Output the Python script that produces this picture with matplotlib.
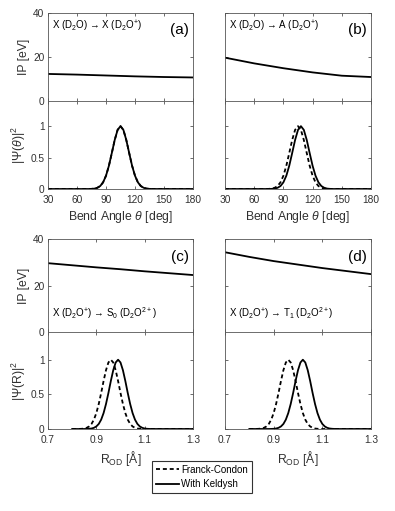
import matplotlib
matplotlib.use("Agg")
import matplotlib.pyplot as plt

plt.rcParams['font.family'] = ['Liberation Sans', 'DejaVu Sans']
plt.rcParams['mathtext.fontset'] = 'custom'
plt.rcParams['mathtext.rm'] = 'Liberation Sans'
plt.rcParams['mathtext.it'] = 'Liberation Sans:italic'
plt.rcParams['mathtext.bf'] = 'Liberation Sans:bold'

# =========================
# Datos
# =========================

# IP vs angulo de flexion
theta_ip = [30, 60, 90, 120, 150, 180]
ip_a = [12.3, 12.0, 11.6, 11.2, 10.9, 10.7]
ip_b = [19.7, 17.1, 14.9, 13.0, 11.5, 10.9]

# IP vs R_OD
r_ip = [0.7, 0.8, 0.9, 1.0, 1.1, 1.2, 1.3]
ip_c = [29.6, 28.7, 27.8, 27.0, 26.1, 25.3, 24.5]
ip_d = [34.3, 32.3, 30.5, 29.0, 27.5, 26.2, 24.9]

# |Psi(theta)|^2
theta_grid = [30, 72, 75, 78, 81, 84, 87, 90, 93, 96, 99, 102, 105, 108, 111,
              114, 117, 120, 123, 126, 129, 132, 135, 138, 141, 180]
psi_a_fc = [0, 0, .002, .006, .019, .047, .106, .211, .369, .571, .779, .940, 1,
            .940, .779, .571, .369, .211, .106, .047, .019, .006, .002, 0, 0, 0]
psi_a_k = list(psi_a_fc)
psi_b_fc = list(psi_a_fc)
psi_b_k = [0, 0, 0, .002, .006, .019, .047, .106, .211, .369, .571, .779, .940,
           1, .940, .779, .571, .369, .211, .106, .047, .019, .006, .002, 0, 0]

# |Psi(R)|^2
r_grid = [0.80, 0.81, 0.82, 0.83, 0.84, 0.85, 0.86, 0.87, 0.88, 0.89,
          0.90, 0.91, 0.92, 0.93, 0.94, 0.95, 0.96, 0.97, 0.98, 0.99,
          1.00, 1.01, 1.02, 1.03, 1.04, 1.05, 1.06, 1.07, 1.08, 1.09,
          1.10, 1.11, 1.12, 1.13, 1.14, 1.15, 1.16, 1.17, 1.18, 1.19,
          1.20, 1.30]
psi_c_fc = [0, 0, 0, .001, .003, .007, .017, .037, .073, .135,
            .230, .361, .520, .693, .849, .960, 1, .960, .849, .693,
            .520, .361, .230, .135, .073, .037, .017, .007, .003, .001,
            0, 0, 0, 0, 0, 0, 0, 0, 0, 0, 0, 0]
psi_c_k = [0, 0, 0, 0, 0, 0, .001, .003, .007, .017,
           .037, .073, .135, .230, .361, .520, .693, .849, .960, 1,
           .960, .849, .693, .520, .361, .230, .135, .073, .037, .017,
           .007, .003, .001, 0, 0, 0, 0, 0, 0, 0, 0, 0]
psi_d_fc = list(psi_c_fc)
psi_d_k = [0, 0, 0, 0, 0, 0, 0, 0, 0, .001,
           .003, .007, .017, .037, .073, .135, .230, .361, .520, .693,
           .849, .960, 1, .960, .849, .693, .520, .361, .230, .135,
           .073, .037, .017, .007, .003, .001, 0, 0, 0, 0, 0, 0]

textos = [r'X (D$_2$O) → X (D$_2$O$^{+}$)',
          r'X (D$_2$O) → A (D$_2$O$^{+}$)',
          r'X (D$_2$O$^{+}$) → S$_0$ (D$_2$O$^{2+}$)',
          r'X (D$_2$O$^{+}$) → T$_1$ (D$_2$O$^{2+}$)']

# =========================
# Figura
# =========================

W, H = 395, 511
fig = plt.figure(figsize=(W / 100, H / 100), dpi=100)

gris = '#303030'
dash = (0, (2.2, 1.6))


def caja(x0, y0, x1, y1):
    return fig.add_axes([x0 / W, 1 - y1 / H, (x1 - x0) / W, (y1 - y0) / H])


def estilo(ax):
    ax.tick_params(direction='in', top=True, right=True, length=2.5,
                   width=0.5, labelsize=7.3, colors=gris, pad=2.5)
    ax.tick_params(axis='x', pad=4.5)
    for s in ax.spines.values():
        s.set_linewidth(0.6)
        s.set_color('#555555')


cols = [(48, 193), (225, 371)]
filas = [(13, 101, 189), (239, 332, 429)]

paneles = [
    (0, 0, theta_ip, ip_a, theta_grid, psi_a_fc, psi_a_k, '(a)'),
    (0, 1, theta_ip, ip_b, theta_grid, psi_b_fc, psi_b_k, '(b)'),
    (1, 0, r_ip, ip_c, r_grid, psi_c_fc, psi_c_k, '(c)'),
    (1, 1, r_ip, ip_d, r_grid, psi_d_fc, psi_d_k, '(d)'),
]

for i, (fila, col, xi, ip, xg, fc, kel, letra) in enumerate(paneles):
    x0, x1 = cols[col]
    yt, ym, yb = filas[fila]
    ax1 = caja(x0, yt, x1, ym)
    ax2 = caja(x0, ym, x1, yb)

    if fila == 0:
        xlim = (30, 180)
        xticks = [30, 60, 90, 120, 150, 180]
        xlab = r'Bend Angle $\theta$ [deg]'
        ylab2 = r'|$\Psi$($\theta$)|$^2$'
    else:
        xlim = (0.7, 1.3)
        xticks = [0.7, 0.9, 1.1, 1.3]
        xlab = r'R$_{\rm OD}$ [Å]'
        ylab2 = r'|$\Psi$(R)|$^2$'

    ax1.plot(xi, ip, color='black', lw=1.3)
    ax1.set_xlim(xlim)
    ax1.set_ylim(0, 40)
    ax1.set_xticks(xticks)
    ax1.set_xticklabels([])
    ax1.set_yticks([0, 20, 40])
    estilo(ax1)

    l1, = ax2.plot(xg, fc, color='black', lw=1.3, linestyle=dash)
    l2, = ax2.plot(xg, kel, color='black', lw=1.3)
    ax2.set_xlim(xlim)
    ax2.set_ylim(0, 1.4)
    ax2.set_xticks(xticks)
    ax2.set_xticklabels([f'{t:g}' for t in xticks])
    ax2.set_yticks([0, 0.5, 1])
    ax2.set_xlabel(xlab, fontsize=8.8, color=gris, labelpad=2.5)
    estilo(ax2)

    if col == 0:
        ax1.set_yticklabels(['0', '20', '40'])
        ax2.set_yticklabels(['0', '0.5', '1'])
        ax1.set_ylabel('IP [eV]', fontsize=8.8, color=gris, labelpad=2)
        ax2.set_ylabel(ylab2, fontsize=8.8, color=gris, labelpad=2)
    else:
        ax1.set_yticklabels([])
        ax2.set_yticklabels([])

    # texto de transicion y letra del panel
    if fila == 0:
        ax1.text(0.03, 0.85, textos[i], transform=ax1.transAxes,
                 fontsize=7, va='center', ha='left')
    else:
        ax1.text(0.03, 0.20, textos[i], transform=ax1.transAxes,
                 fontsize=7, va='center', ha='left')
    ax1.text(0.97, 0.81, letra, transform=ax1.transAxes,
             fontsize=11, va='center', ha='right')

fig.legend([l1, l2], ['Franck-Condon', 'With Keldysh'],
           loc='center', bbox_to_anchor=(202 / W, 1 - 477 / H),
           fontsize=7, frameon=True, fancybox=False, edgecolor='black',
           handlelength=2.4, handletextpad=0.2, borderpad=0.4,
           labelspacing=0.45, borderaxespad=0)
fig.legends[0].get_frame().set_linewidth(0.8)

plt.savefig('out.png', dpi=100)
